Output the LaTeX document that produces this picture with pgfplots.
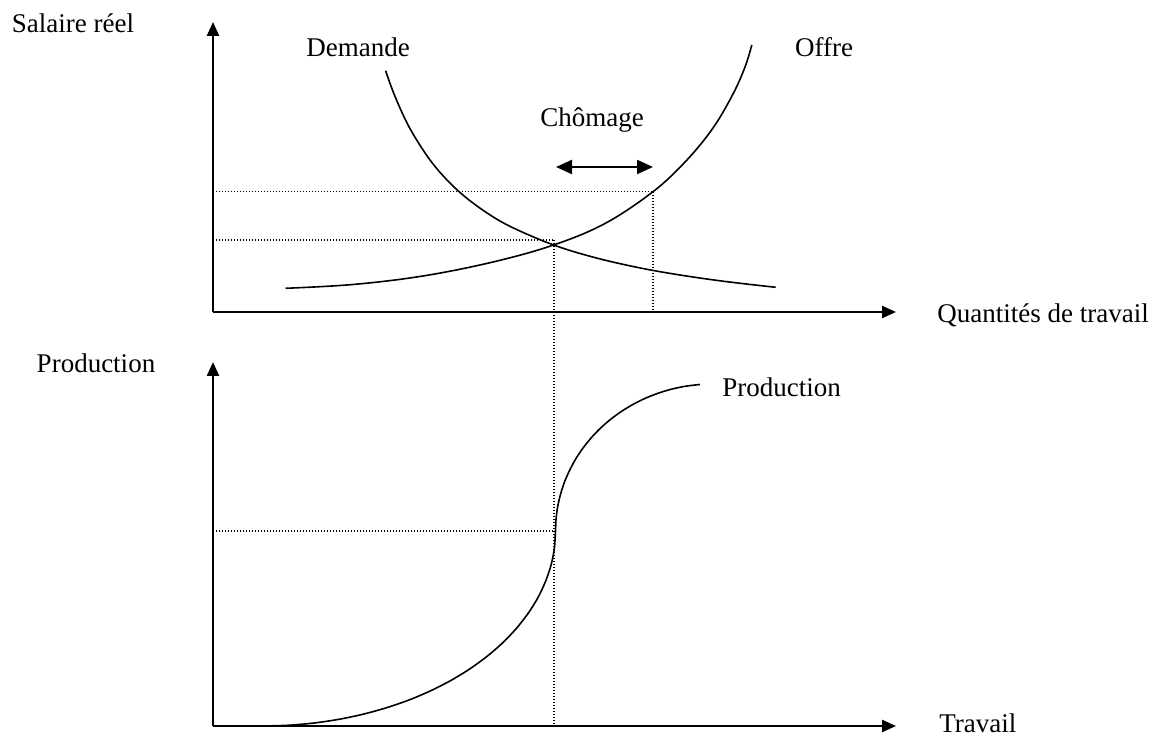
\documentclass[border=0pt]{standalone}
\usepackage{fontspec}
\setmainfont{Liberation Serif}
\usepackage{pgfplots}
\pgfplotsset{compat=1.18}
\usetikzlibrary{arrows.meta}
\newcommand\lab{\fontsize{13.5}{16}\selectfont}
\begin{document}
\begin{tikzpicture}
\useasboundingbox (-106.5pt,-5.5pt) rectangle (470.5pt,363pt);
\pgfplotsset{
  schem/.style={
    scale only axis,
    axis lines=left,
    axis line style={line width=1.2pt, -{Triangle[length=7pt,width=6pt]}},
    xtick=\empty, ytick=\empty,
    xmin=0, xmax=683, ymin=0,
    clip=false,
    every axis plot/.append style={line width=0.8pt},
  },
  dots/.style={line width=0.6pt, dash pattern=on 0.6pt off 0.9pt},
}
% Top: labour market
\begin{axis}[schem, at={(0,207pt)}, anchor=south west,
  width=341.5pt, height=145pt, ymax=290]
  % Demand
  \addplot[black, smooth, tension=0.6] coordinates {
    (172.6,241.3) (180,220.6) (190,197.3) (200,178.1) (215,154.8)
    (230,136.3) (250,116.9) (275,98.4) (300,84.2) (340.6,67.0)
    (380,54.9) (420,45.5) (460,38.1) (510,30.8) (562.7,24.7)};
  % Supply
  \addplot[black, smooth, tension=0.6] coordinates {
    (72.6,23.7) (140,27.5) (210,36) (280,50) (340.6,67)
    (392,88.5) (440,120.3) (473,151) (500,184) (520,218)
    (532,245) (538.8,267)};
  % Dotted guides
  \addplot[black, dots] coordinates {(0,120.3) (440,120.3)};
  \addplot[black, dots] coordinates {(440,120.3) (440,0)};
  \addplot[black, dots] coordinates {(0,72) (341,72)};
  \addplot[black, dots] coordinates {(341,72) (341,-414)};
  % Unemployment arrow
  \addplot[black, line width=1.1pt, {Triangle[length=8pt,width=7pt]}-{Triangle[length=8pt,width=7pt]}]
    coordinates {(343,145) (440,145)};
  \node[font=\lab] at (axis cs:-140,289) {Salaire réel};
  \node[font=\lab] at (axis cs:145,265) {Demande};
  \node[font=\lab] at (axis cs:611,265) {Offre};
  \node[font=\lab] at (axis cs:379,192) {Chômage};
  \node[font=\lab, anchor=west, inner sep=0pt] at (axis cs:724,-3) {Quantités de travail};
\end{axis}
% Bottom: production function
\begin{axis}[schem, at={(0,0)}, anchor=south west,
  width=341.5pt, height=182pt, ymax=364]
  \addplot[black, smooth, tension=0.5] coordinates {
    (50,0) (75.5,0.74) (100.8,2.96) (125.7,6.65) (150.0,11.76)
    (173.6,18.3) (196.25,26.1) (217.8,35.3) (238.0,45.6) (256.8,57.1)
    (274.1,69.7) (289.6,83.1) (303.3,97.5) (315.1,112.6) (324.9,128.3)
    (332.5,144.5) (338.1,161.1) (341.4,178.0) (342.5,195)
    (343.1,207.8) (344.9,220.5) (347.9,233.0) (352.0,245.3) (357.3,257.1)
    (363.6,268.5) (371.0,279.3) (379.4,289.5) (388.6,298.9) (398.8,307.6)
    (409.7,315.4) (421.3,322.3) (433.4,328.2) (446.1,333.1) (459.2,337.0)
    (472.7,339.8) (487,341.5)};
  \addplot[black, dots] coordinates {(0,195) (342,195)};
  \node[font=\lab] at (axis cs:-117,363) {Production};
  \node[font=\lab, anchor=west, inner sep=0pt] at (axis cs:509,339) {Production};
  \node[font=\lab, anchor=west, inner sep=0pt] at (axis cs:726,3) {Travail};
\end{axis}
\end{tikzpicture}
\end{document}
